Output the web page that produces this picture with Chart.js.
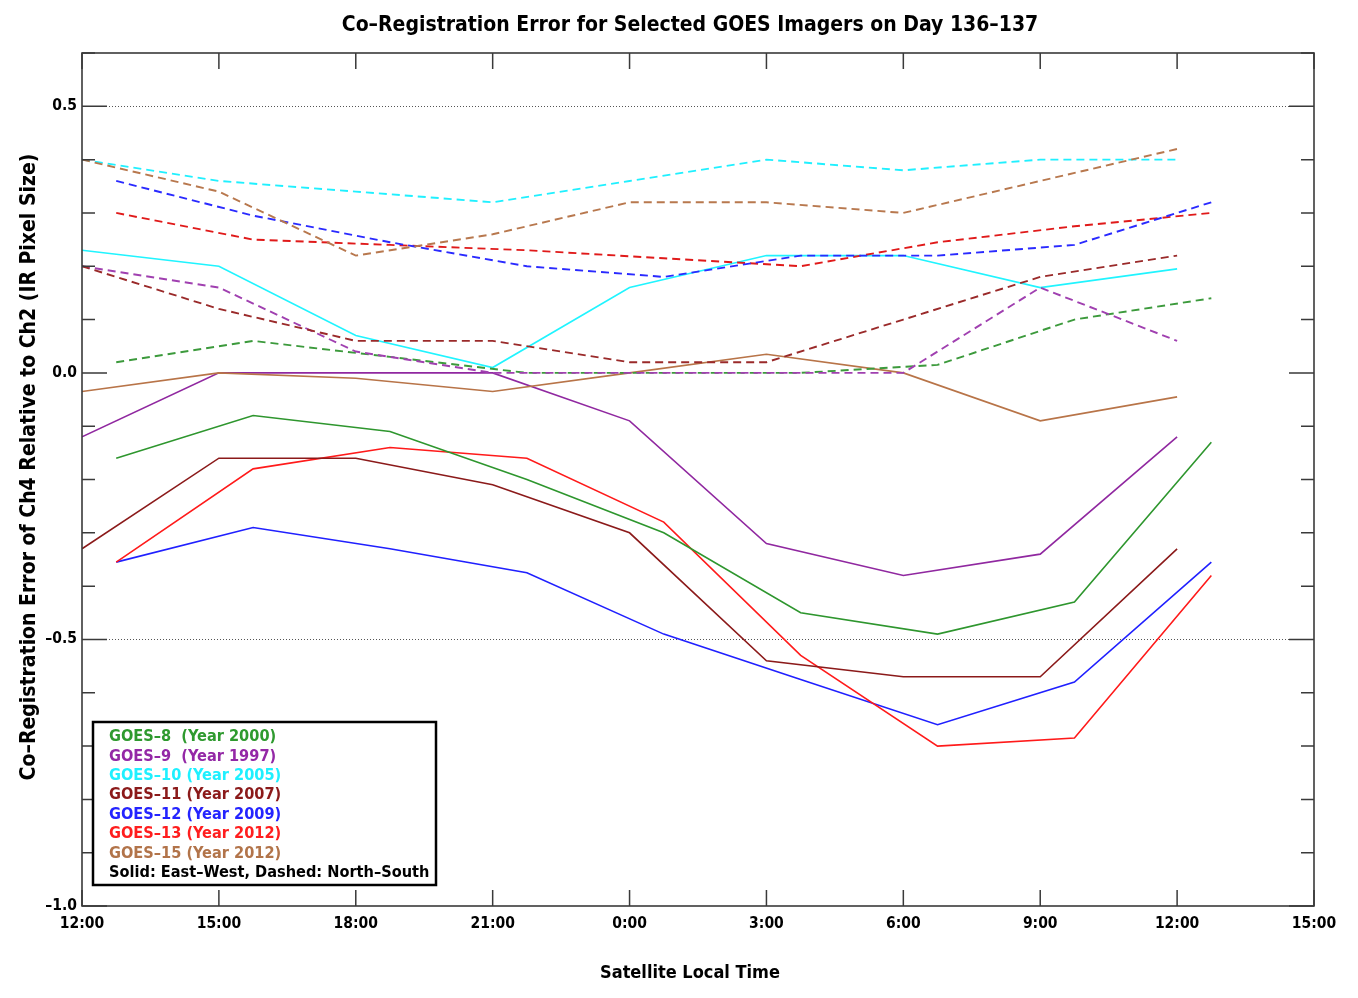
<!DOCTYPE html>
<html>
<head>
<meta charset="utf-8">
<script src="https://cdn.jsdelivr.net/npm/chart.js@4.4.1/dist/chart.umd.min.js"></script>
<style>
  html, body { margin: 0; padding: 0; background: #fff; }
  canvas { display: block; }
</style>
</head>
<body>
<canvas id="coreg" width="1358" height="998"></canvas>
<script>
// hours after 12:00 on day 136
const hoursA = [0, 3, 6, 9, 12, 15, 18, 21, 24];
const hoursB = [0.75, 3.75, 6.75, 9.75, 12.75, 15.75, 18.75, 21.75, 24.75];
const tickLabels = ["12:00", "15:00", "18:00", "21:00", "0:00", "3:00", "6:00", "9:00", "12:00", "15:00"];

// solid = East-West, dashed = North-South
const goes8EW  = [-0.16, -0.08, -0.11, -0.20, -0.30, -0.45, -0.49, -0.43, -0.13];
const goes8NS  = [0.02, 0.06, 0.03, 0.00, 0.00, 0.00, 0.015, 0.10, 0.14];
const goes9EW  = [-0.12, 0.00, 0.00, 0.00, -0.09, -0.32, -0.38, -0.34, -0.12];
const goes9NS  = [0.20, 0.16, 0.04, 0.00, 0.00, 0.00, 0.00, 0.16, 0.06];
const goes10EW = [0.23, 0.20, 0.07, 0.01, 0.16, 0.22, 0.22, 0.16, 0.195];
const goes10NS = [0.40, 0.36, 0.34, 0.32, 0.36, 0.40, 0.38, 0.40, 0.40];
const goes11EW = [-0.33, -0.16, -0.16, -0.21, -0.30, -0.54, -0.57, -0.57, -0.33];
const goes11NS = [0.20, 0.12, 0.06, 0.06, 0.02, 0.02, 0.10, 0.18, 0.22];
const goes12EW = [-0.355, -0.29, -0.33, -0.375, -0.49, -0.575, -0.66, -0.58, -0.355];
const goes12NS = [0.36, 0.295, 0.245, 0.20, 0.18, 0.22, 0.22, 0.24, 0.32];
const goes13EW = [-0.355, -0.18, -0.14, -0.16, -0.28, -0.53, -0.70, -0.685, -0.38];
const goes13NS = [0.30, 0.25, 0.24, 0.23, 0.215, 0.20, 0.245, 0.275, 0.30];
const goes15EW = [-0.035, 0.00, -0.01, -0.035, 0.00, 0.035, 0.00, -0.09, -0.045];
const goes15NS = [0.40, 0.34, 0.22, 0.26, 0.32, 0.32, 0.30, 0.36, 0.42];

const legendLines = [
  ["GOES\u20138  (Year 2000)", "#2e9a2e"],
  ["GOES\u20139  (Year 1997)", "#9428a6"],
  ["GOES\u201310 (Year 2005)", "#1ef0ff"],
  ["GOES\u201311 (Year 2007)", "#8b1a1a"],
  ["GOES\u201312 (Year 2009)", "#2424ff"],
  ["GOES\u201313 (Year 2012)", "#ff1e1e"],
  ["GOES\u201315 (Year 2012)", "#b2744a"],
  ["Solid: East\u2013West, Dashed: North\u2013South", "#000"],
];

const FONT = '"Liberation Sans Narrow", "DejaVu Sans Condensed", "Arial Narrow", sans-serif';

function series(hours, vals, color, dashed) {
  return {
    data: hours.map((h, i) => ({ x: h, y: vals[i] })),
    borderColor: color,
    borderWidth: dashed ? 1.9 : 1.6,
    borderDash: dashed ? [8, 5] : [],
    pointRadius: 0,
    tension: 0,
    fill: false,
  };
}

const datasets = [
  series(hoursA, goes15NS, "#b8784e", true),
  series(hoursA, goes10NS, "#20f0ff", true),
  series(hoursB, goes12NS, "#2a2aff", true),
  series(hoursB, goes13NS, "#e01a1a", true),
  series(hoursA, goes11NS, "#9a2a2a", true),
  series(hoursA, goes9NS, "#a040b0", true),
  series(hoursB, goes8NS, "#3c9a3c", true),
  series(hoursA, goes10EW, "#20f4ff", false),
  series(hoursA, goes15EW, "#b87448", false),
  series(hoursA, goes9EW, "#9028a0", false),
  series(hoursB, goes8EW, "#2e962e", false),
  series(hoursA, goes11EW, "#8b1a1a", false),
  series(hoursB, goes13EW, "#ff1a1a", false),
  series(hoursB, goes12EW, "#2020ff", false),
];

const frame = {
  id: "frame",
  beforeDatasetsDraw(chart) {
    const { ctx, chartArea: a, scales: { y } } = chart;
    ctx.save();
    ctx.strokeStyle = "#555";
    ctx.lineWidth = 1;
    ctx.setLineDash([1, 2]);
    [0.5, -0.5].forEach(v => {
      const py = Math.round(y.getPixelForValue(v)) + 0.5;
      ctx.beginPath();
      ctx.moveTo(a.left, py);
      ctx.lineTo(a.right, py);
      ctx.stroke();
    });
    ctx.restore();
  },
  afterDraw(chart) {
    const { ctx, chartArea: a, scales: { x, y } } = chart;
    ctx.save();
    ctx.strokeStyle = "#3a3a3a";
    ctx.lineWidth = 1.6;
    ctx.strokeRect(a.left, a.top, a.right - a.left, a.bottom - a.top);

    // inward ticks
    ctx.lineWidth = 1.5;
    ctx.beginPath();
    for (let v = 0; v <= 27; v += 3) {
      const px = x.getPixelForValue(v);
      ctx.moveTo(px, a.bottom); ctx.lineTo(px, a.bottom - 16);
      ctx.moveTo(px, a.top); ctx.lineTo(px, a.top + 16);
    }
    for (let k = -10; k <= 6; k++) {
      const py = y.getPixelForValue(k / 10);
      const len = k % 5 === 0 ? 25 : 13;
      ctx.moveTo(a.left, py); ctx.lineTo(a.left + len, py);
      ctx.moveTo(a.right, py); ctx.lineTo(a.right - len, py);
    }
    ctx.stroke();

    // legend box
    ctx.fillStyle = "#fff";
    ctx.fillRect(93, 722, 343, 163);
    ctx.lineWidth = 2.5;
    ctx.strokeStyle = "#000";
    ctx.strokeRect(93, 722, 343, 163);
    ctx.font = "bold 16.2px " + FONT;
    ctx.textBaseline = "middle";
    ctx.textAlign = "left";
    legendLines.forEach(([txt, col], i) => {
      ctx.fillStyle = col;
      ctx.fillText(txt, 109, 737 + i * 19.4);
    });

    // titles
    ctx.fillStyle = "#000";
    ctx.textAlign = "center";
    ctx.font = "bold 21px " + FONT;
    ctx.fillText("Co\u2013Registration Error for Selected GOES Imagers on Day 136\u2013137", 690, 26);
    ctx.font = "bold 18px " + FONT;
    ctx.fillText("Satellite Local Time", 690, 973);
    ctx.font = "bold 21px " + FONT;
    ctx.translate(30, 467);
    ctx.rotate(-Math.PI / 2);
    ctx.fillText("Co\u2013Registration Error of Ch4 Relative to Ch2 (IR Pixel Size)", 0, 0);
    ctx.restore();
  },
};

new Chart(document.getElementById("coreg"), {
  type: "line",
  data: { datasets },
  options: {
    responsive: false,
    animation: false,
    layout: { padding: { left: 0, right: 44, top: 53, bottom: 0 } },
    plugins: { legend: { display: false }, tooltip: { enabled: false } },
    scales: {
      x: {
        type: "linear",
        min: 0,
        max: 27,
        afterFit: s => { s.height = 92; },
        grid: { display: false, drawTicks: false },
        border: { display: false },
        ticks: {
          stepSize: 3,
          autoSkip: false,
          maxRotation: 0,
          padding: 9,
          color: "#000",
          font: { family: FONT, size: 15.5, weight: "bold" },
          callback: v => tickLabels[Math.round(v / 3)],
        },
      },
      y: {
        min: -1.0,
        max: 0.6,
        afterFit: s => { s.width = 82; },
        grid: { display: false, drawTicks: false },
        border: { display: false },
        ticks: {
          stepSize: 0.1,
          autoSkip: false,
          padding: 5,
          color: "#000",
          font: { family: FONT, size: 15.5, weight: "bold" },
          callback: v => {
            const t = Math.round(v * 10);
            return t % 5 === 0 ? (t / 10).toFixed(1).replace("-", "\u2013") : "";
          },
        },
      },
    },
  },
  plugins: [frame],
});
</script>
</body>
</html>
